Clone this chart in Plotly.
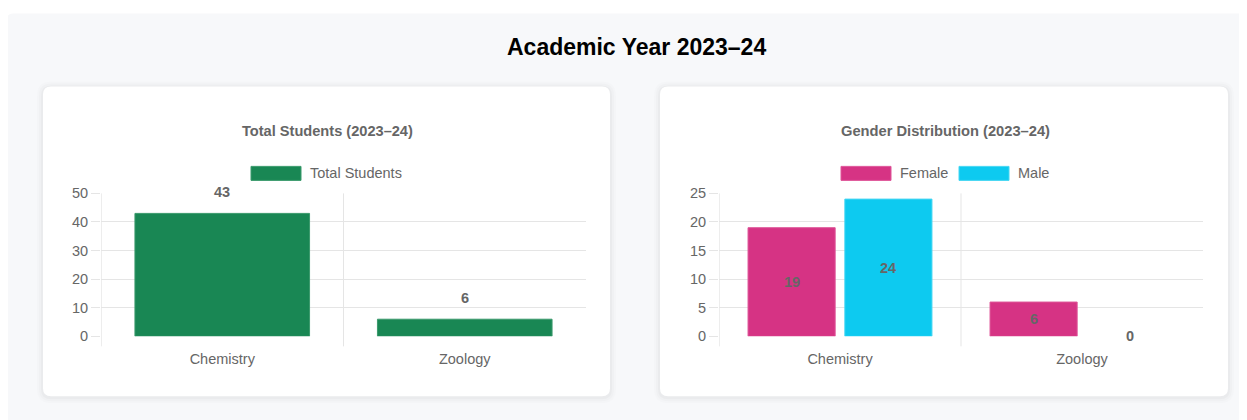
import plotly.graph_objects as go

# ---------------- data ----------------
categories = ["Chemistry", "Zoology"]
total_students = [43, 6]
female = [19, 6]
male = [24, 0]
total_ticks = [0, 10, 20, 30, 40, 50]
gender_ticks = [0, 5, 10, 15, 20, 25]

main_title = "Academic Year 2023–24"
left_title = "Total Students (2023–24)"
right_title = "Gender Distribution (2023–24)"

# ---------------- geometry helpers (screen px) ----------------
W, H = 1239, 420
X0 = 8           # horizontal screen offset of the plot div (body margin)
P, S = 15.6, 0.962  # vertical screen offset / scale observed for the plot div


def fx(x):
    return (x - X0) / W


def fy(y):
    return 1 - ((y - P) / S) / H


def rrect(x0, y0, x1, y1, r):
    a, b, c, d = fx(x0), fx(x1), fy(y0), fy(y1)
    rx, ry = r / W, r / (H * S)
    return (f"M{a+rx},{c} L{b-rx},{c} Q{b},{c} {b},{c-ry} "
            f"L{b},{d+ry} Q{b},{d} {b-rx},{d} L{a+rx},{d} Q{a},{d} {a},{d+ry} "
            f"L{a},{c-ry} Q{a},{c} {a+rx},{c} Z")


def edge_widths(vals):
    # no outline on zero-height bars (as in the reference)
    return [1 if v > 0 else 0 for v in vals]


FONT = "Liberation Sans, Arial, Helvetica, sans-serif"
GRAY = "#666666"
GRID = "#e5e5e5"
AXIS = "#dcdcdc"
GREEN, GREEN_EDGE = "#198754", "#3a9a6c"
PINK, PINK_EDGE = "#d63384", "#de5598"
CYAN, CYAN_EDGE = "#0dcaf0", "#45d6f3"

PLOT_TOP, PLOT_BOT = 193, 336
LEFT_X = (101, 586)
RIGHT_X = (719, 1203)

fig = go.Figure()

fig.add_trace(go.Bar(x=categories, y=total_students, name="Total Students",
                     marker=dict(color=GREEN, line=dict(width=edge_widths(total_students), color=GREEN_EDGE)),
                     xaxis="x", yaxis="y", showlegend=False))
fig.add_trace(go.Bar(x=categories, y=female, name="Female",
                     marker=dict(color=PINK, line=dict(width=edge_widths(female), color=PINK_EDGE)),
                     xaxis="x2", yaxis="y2", showlegend=False))
fig.add_trace(go.Bar(x=categories, y=male, name="Male",
                     marker=dict(color=CYAN, line=dict(width=edge_widths(male), color=CYAN_EDGE)),
                     xaxis="x2", yaxis="y2", showlegend=False))

shapes = []
annotations = []

# page container background
shapes.append(dict(type="path", xref="paper", yref="paper",
                   path=rrect(7, 13, 1260, 470, 6), fillcolor="#f7f8fa",
                   line=dict(width=0), layer="below"))

# cards with soft shadow
for (cx0, cx1) in [(43, 610), (660, 1228)]:
    for i, op in [(6, 0.010), (4, 0.015), (2, 0.022)]:
        shapes.append(dict(type="path", xref="paper", yref="paper",
                           path=rrect(cx0 - i, 86 - i + 1, cx1 + i, 396 + i + 1, 8 + i),
                           fillcolor=f"rgba(0,0,0,{op})", line=dict(width=0), layer="below"))
    shapes.append(dict(type="path", xref="paper", yref="paper",
                       path=rrect(cx0, 86, cx1, 396, 8), fillcolor="white",
                       line=dict(width=0), layer="below"))

ext = 10 / (PLOT_BOT - PLOT_TOP)
for xa, ya in [("x", "y"), ("x2", "y2")]:
    # y axis line (extends below like a tick) and category boundary line
    for xv, col in [(-0.5, AXIS), (0.5, GRID)]:
        shapes.append(dict(type="line", xref=xa, yref=f"{ya} domain", x0=xv, x1=xv,
                           y0=-ext, y1=1, line=dict(color=col, width=1), layer="below"))

# titles
annotations.append(dict(text=f"<b>{main_title}</b>", xref="paper", yref="paper",
                        x=fx(636), y=fy(47), xanchor="center", yanchor="middle", showarrow=False,
                        font=dict(family=FONT, size=23, color="#000000")))
annotations.append(dict(text=f"<b>{left_title}</b>", xref="paper", yref="paper",
                        x=fx(327), y=fy(131), xanchor="center", yanchor="middle", showarrow=False,
                        font=dict(family=FONT, size=14.6, color=GRAY)))
annotations.append(dict(text=f"<b>{right_title}</b>", xref="paper", yref="paper",
                        x=fx(945), y=fy(131), xanchor="center", yanchor="middle", showarrow=False,
                        font=dict(family=FONT, size=14.7, color=GRAY)))

# legends
legend_items = [("Total Students", GREEN, GREEN_EDGE, 251), ("Female", PINK, PINK_EDGE, 841),
                ("Male", CYAN, CYAN_EDGE, 959)]
for name, col, edge, lx in legend_items:
    shapes.append(dict(type="rect", xref="paper", yref="paper",
                       x0=fx(lx), x1=fx(lx + 50), y0=fy(180), y1=fy(166),
                       fillcolor=col, line=dict(width=1, color=edge)))
    annotations.append(dict(text=name, xref="paper", yref="paper", x=fx(lx + 57), y=fy(173),
                            xanchor="left", yanchor="middle", showarrow=False,
                            font=dict(family=FONT, size=14.5, color=GRAY)))

# data labels
for c, v in zip(categories, total_students):
    annotations.append(dict(text=f"<b>{v}</b>", x=c, y=v, xref="x", yref="y",
                            xanchor="center", yanchor="bottom", yshift=11, showarrow=False,
                            font=dict(family=FONT, size=14.5, color=GRAY)))
group_px = (RIGHT_X[1] - RIGHT_X[0]) / len(categories)
for vals, off in [(female, -0.2), (male, 0.2)]:
    for c, v in zip(categories, vals):
        annotations.append(dict(text=f"<b>{v}</b>", x=c, y=v / 2, xref="x2", yref="y2",
                                xanchor="center", yanchor="middle",
                                xshift=off * group_px, showarrow=False,
                                font=dict(family=FONT, size=14.5, color=GRAY)))

axis_common = dict(showline=False, zeroline=False, tickfont=dict(family=FONT, size=14.5, color=GRAY))

fig.update_layout(
    width=W, height=H, autosize=False,
    margin=dict(l=0, r=0, t=0, b=0),
    paper_bgcolor="white", plot_bgcolor="rgba(0,0,0,0)",
    barmode="group", bargap=0.2, bargroupgap=0.1,
    showlegend=False,
    shapes=shapes, annotations=annotations,
    xaxis=dict(domain=[fx(LEFT_X[0]), fx(LEFT_X[1])], anchor="y", range=[-0.5, 1.5],
               showgrid=False, ticks="outside", ticklen=9, tickcolor="rgba(0,0,0,0)", **axis_common),
    yaxis=dict(domain=[fy(PLOT_BOT), fy(PLOT_TOP)], anchor="x", range=[0, 50],
               tickvals=total_ticks, showgrid=True, gridcolor=GRID,
               ticks="outside", ticklen=9, tickcolor=GRID, **axis_common),
    xaxis2=dict(domain=[fx(RIGHT_X[0]), fx(RIGHT_X[1])], anchor="y2", range=[-0.5, 1.5],
                showgrid=False, ticks="outside", ticklen=9, tickcolor="rgba(0,0,0,0)", **axis_common),
    yaxis2=dict(domain=[fy(PLOT_BOT), fy(PLOT_TOP)], anchor="x2", range=[0, 25],
                tickvals=gender_ticks, showgrid=True, gridcolor=GRID,
                ticks="outside", ticklen=9, tickcolor=GRID, **axis_common),
)

fig.write_html("out.html")
